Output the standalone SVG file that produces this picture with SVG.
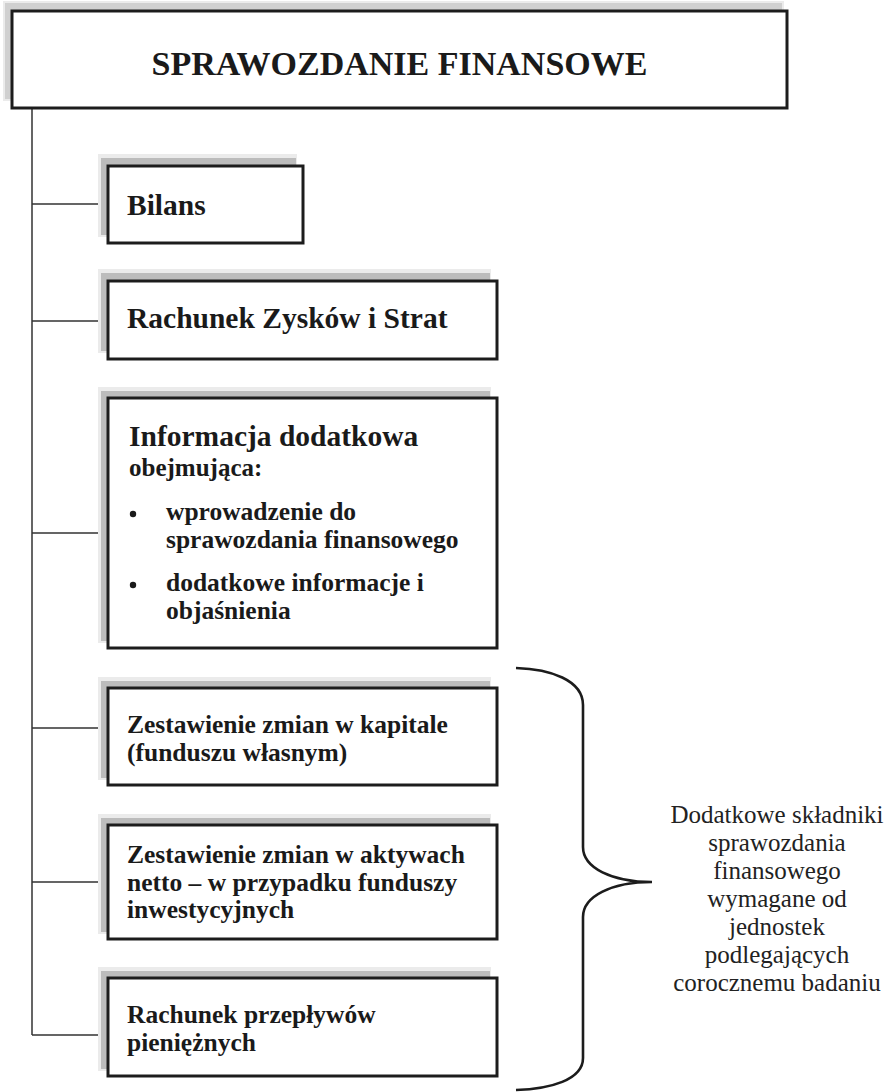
<svg xmlns="http://www.w3.org/2000/svg" width="889" height="1092" viewBox="0 0 889 1092">
<defs>
<filter id="soft" x="-10%" y="-10%" width="120%" height="120%"><feGaussianBlur stdDeviation="0.6"/></filter>
</defs>
<style>
.halo{fill:#ebebeb}
.sh{fill:#bcbcbc;filter:url(#soft)}
.bx{fill:#fff;stroke:#1c1c1c;stroke-width:3}
.ln{fill:none;stroke:#333;stroke-width:1.5}
.br{fill:none;stroke:#1c1c1c;stroke-width:2.6}
.t{font-family:"Liberation Serif","Times New Roman",serif;font-weight:bold;fill:#1a1a1a}
.big{font-size:29.5px}
.mid{font-size:25.5px}
.r{font-family:"Liberation Serif","Times New Roman",serif;font-size:25px;fill:#222;text-anchor:middle}
</style>
<rect width="889" height="1092" fill="#fff"/>
<g id="connectors">
<path class="ln" d="M32,108 V1035 M32,204 H108 M32,321 H108 M32,533 H108 M32,728 H108 M32,882 H108 M32,1035 H108"/>
</g>
<g id="title">
<rect class="halo" x="3" y="1" width="781" height="100"/>
<rect class="sh" x="5" y="3" width="777" height="96" style="fill:#d0d0d0"/>
<rect class="bx" x="12" y="11" width="775" height="97"/>
<text class="t" x="399.5" y="75" font-size="34" text-anchor="middle">SPRAWOZDANIE FINANSOWE</text>
</g>
<g id="bilans">
<rect class="halo" x="98" y="154" width="199" height="83"/>
<rect class="sh" x="101" y="158" width="195" height="77"/>
<rect class="bx" x="108" y="166" width="195" height="77"/>
<text class="t big" x="127" y="215">Bilans</text>
</g>
<g id="rzis">
<rect class="halo" x="98" y="269" width="393" height="84"/>
<rect class="sh" x="101" y="273" width="389" height="78"/>
<rect class="bx" x="108" y="281" width="389" height="78"/>
<text class="t big" x="127" y="328">Rachunek Zysków i Strat</text>
</g>
<g id="informacja">
<rect class="halo" x="98" y="387" width="393" height="256"/>
<rect class="sh" x="101" y="391" width="389" height="250"/>
<rect class="bx" x="108" y="398" width="389" height="250"/>
<text class="t big" x="129" y="446">Informacja dodatkowa</text>
<text class="t" x="129" y="476" font-size="25">obejmująca:</text>
<circle cx="133" cy="514" r="3.2" fill="#1a1a1a"/>
<circle cx="133" cy="585" r="3.2" fill="#1a1a1a"/>
<text class="t mid" x="166" y="520">wprowadzenie do</text>
<text class="t mid" x="166" y="548">sprawozdania finansowego</text>
<text class="t mid" x="166" y="591">dodatkowe informacje i</text>
<text class="t mid" x="166" y="619">objaśnienia</text>
</g>
<g id="kapital">
<rect class="halo" x="98" y="677" width="393" height="103"/>
<rect class="sh" x="101" y="681" width="389" height="97"/>
<rect class="bx" x="108" y="688" width="389" height="97"/>
<text class="t mid" x="127" y="733">Zestawienie zmian w kapitale</text>
<text class="t mid" x="127" y="761">(funduszu własnym)</text>
</g>
<g id="aktywa">
<rect class="halo" x="98" y="814" width="393" height="120"/>
<rect class="sh" x="101" y="818" width="389" height="114"/>
<rect class="bx" x="108" y="825" width="389" height="114"/>
<text class="t mid" x="127" y="863">Zestawienie zmian w aktywach</text>
<text class="t mid" x="127" y="891">netto – w przypadku funduszy</text>
<text class="t mid" x="127" y="918">inwestycyjnych</text>
</g>
<g id="przeplywy">
<rect class="halo" x="98" y="967" width="393" height="104"/>
<rect class="sh" x="101" y="971" width="389" height="98"/>
<rect class="bx" x="108" y="978" width="389" height="98"/>
<text class="t mid" x="127" y="1023">Rachunek przepływów</text>
<text class="t mid" x="127" y="1051">pieniężnych</text>
</g>
<g id="brace">
<path class="br" d="M516,668 C550,669 583,680 583,705 L583,847 C583,868 612,882 652,882 C612,882 583,896 583,917 L583,1058 C583,1080 550,1089 516,1090"/>
<text class="r" x="777" y="823">Dodatkowe składniki</text>
<text class="r" x="777" y="851">sprawozdania</text>
<text class="r" x="777" y="879">finansowego</text>
<text class="r" x="777" y="907">wymagane od</text>
<text class="r" x="777" y="935">jednostek</text>
<text class="r" x="777" y="963">podlegających</text>
<text class="r" x="777" y="991">corocznemu badaniu</text>
</g>
</svg>
